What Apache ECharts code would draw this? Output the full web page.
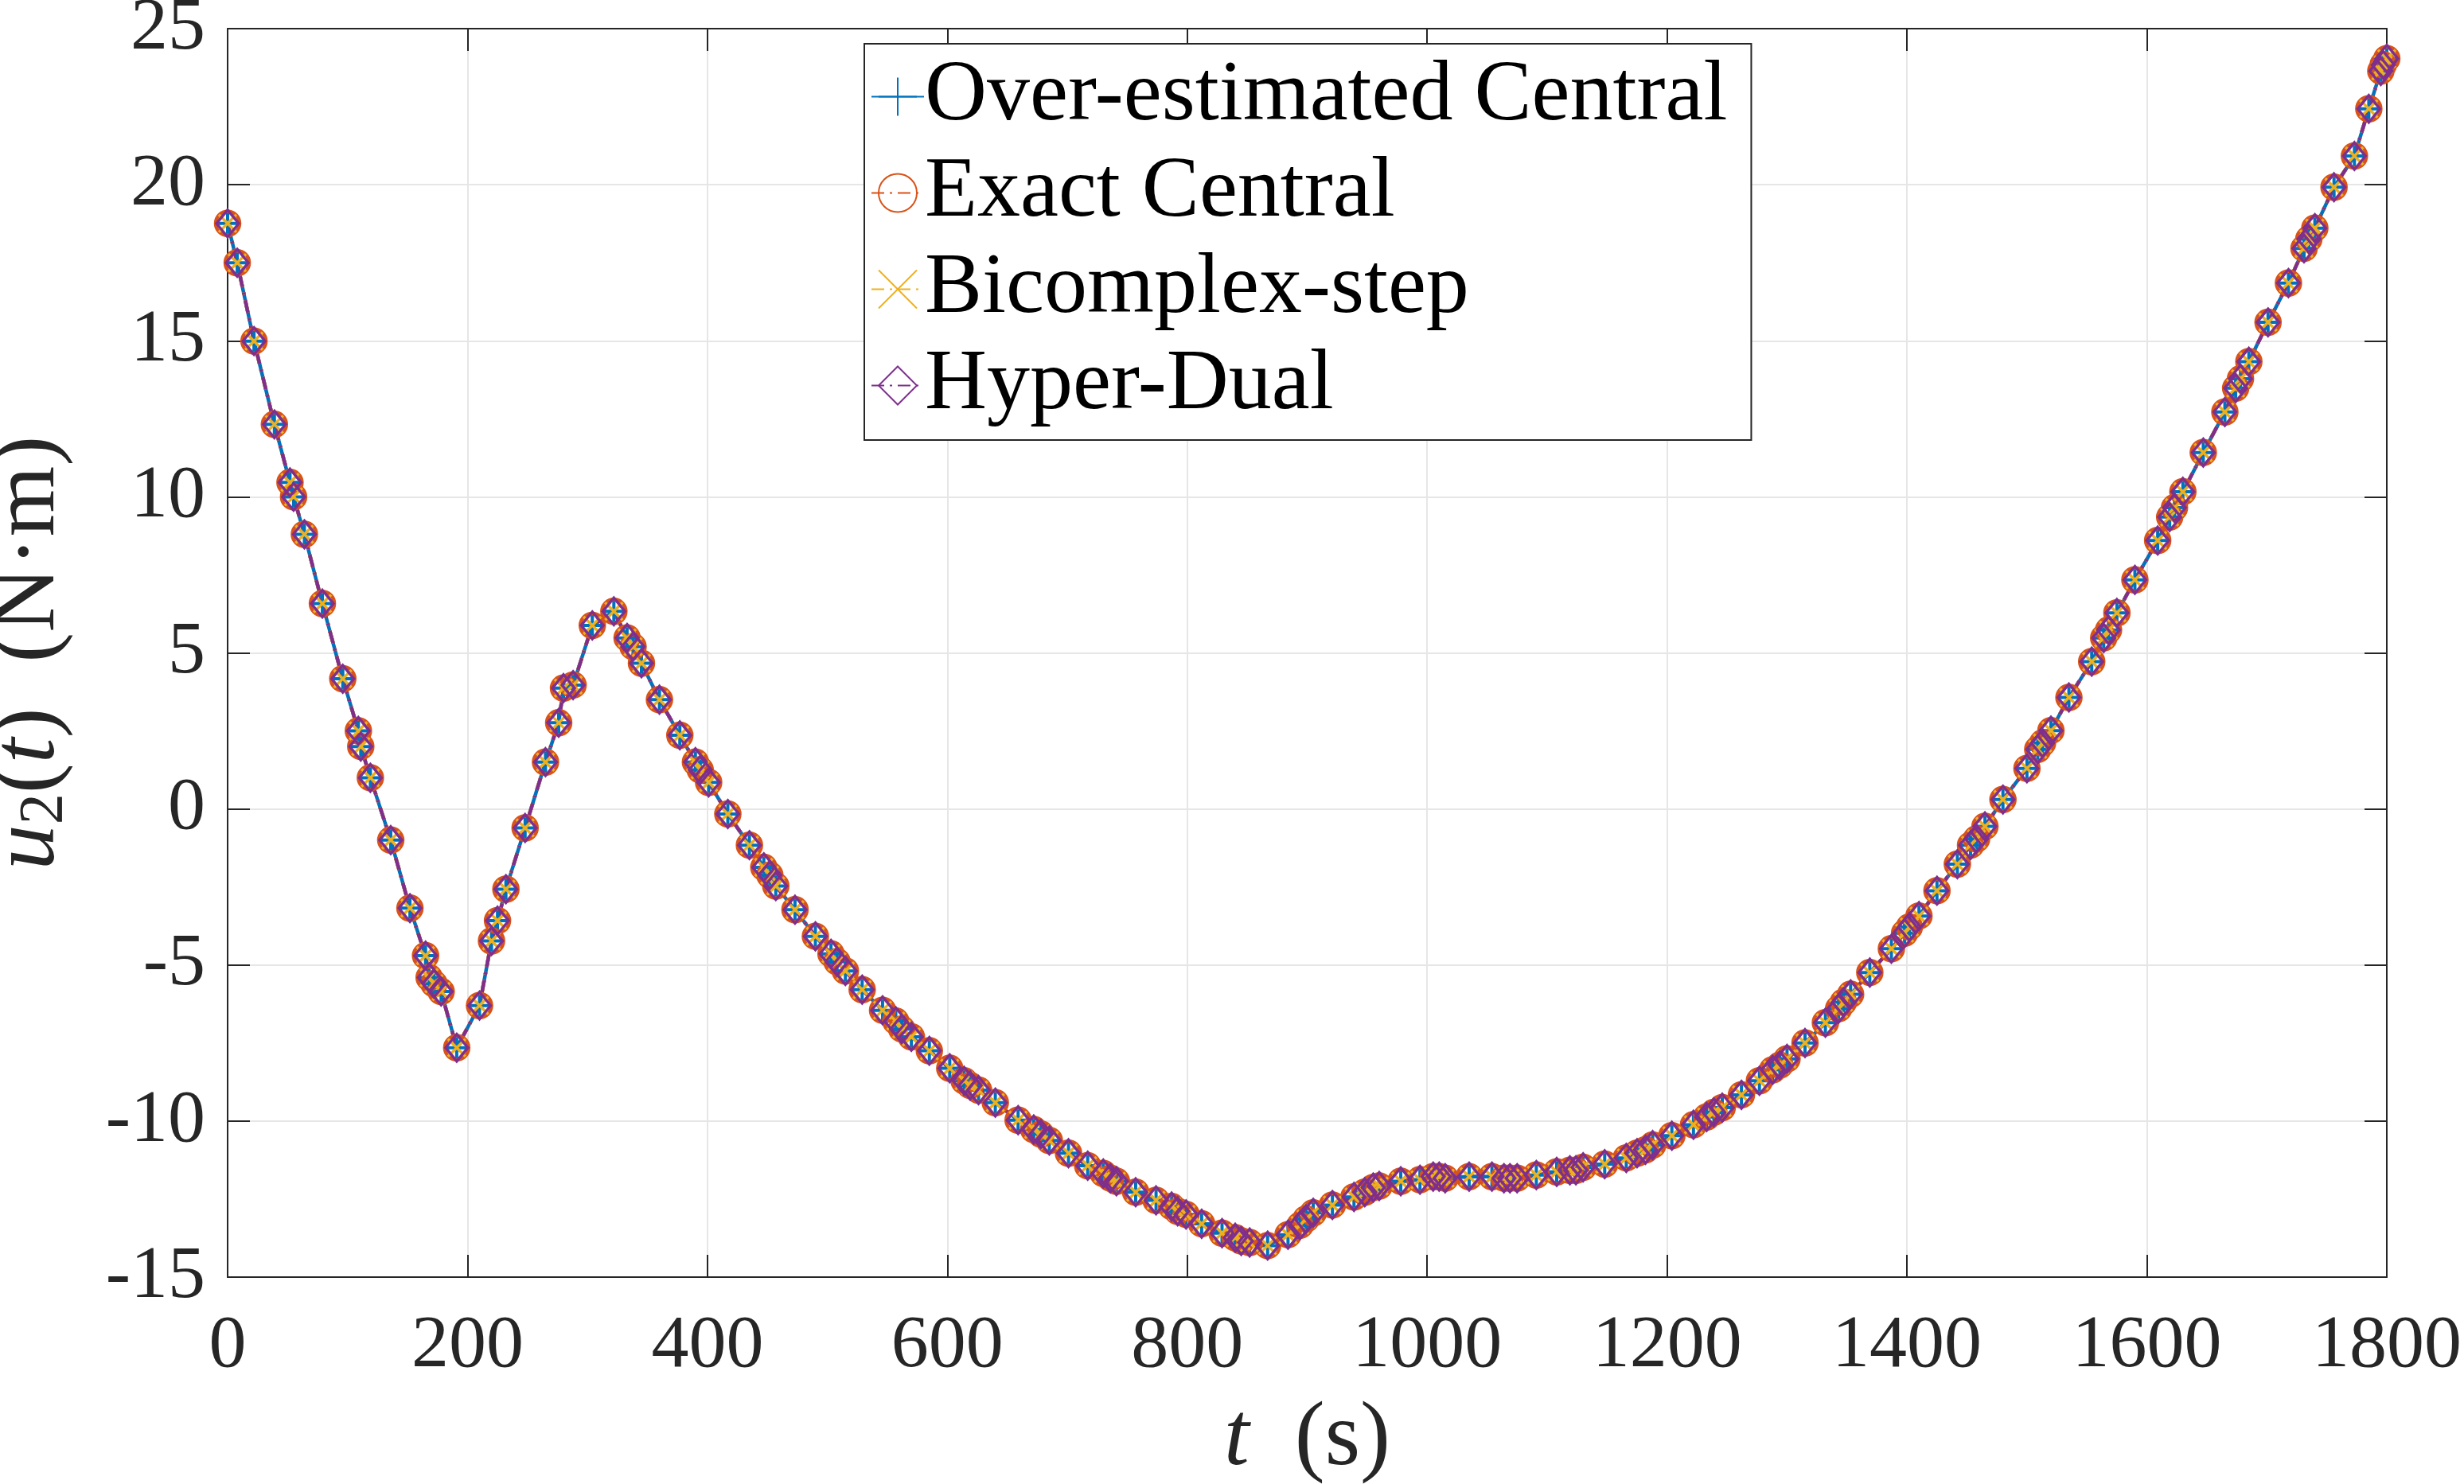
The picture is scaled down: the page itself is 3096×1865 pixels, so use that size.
<!DOCTYPE html>
<html>
<head>
<meta charset="utf-8">
<script src="https://cdn.jsdelivr.net/npm/echarts@6/dist/echarts.min.js"></script>
<style>
  html, body { margin: 0; padding: 0; background: #fff; }
  #chart { width: 3096px; height: 1865px; }
</style>
</head>
<body>
<div id="chart"></div>
<script>
// time samples (s) and torque u2 (N·m)
const tData = [0, 8, 22, 39, 52, 55, 64, 79, 96, 109, 111, 119, 136, 152, 165, 168, 172, 178, 191,
  210, 220, 225, 232, 248, 265, 276, 280, 288, 304, 322, 333, 338, 345, 360, 377, 390, 394, 401,
  417, 435, 447, 452, 457, 473, 490, 503, 508, 515, 529, 546, 557, 562, 570, 585, 602, 614, 619,
  626, 640, 659, 672, 678, 685, 701, 717, 730, 736, 741, 757, 774, 787, 792, 799, 812, 829, 840,
  845, 852, 867, 884, 894, 899, 905, 921, 939, 948, 955, 960, 978, 994, 1005, 1010, 1015, 1035,
  1054, 1064, 1069, 1075, 1091, 1108, 1119, 1124, 1130, 1148, 1166, 1175, 1182, 1188, 1204, 1222,
  1233, 1239, 1246, 1262, 1277, 1288, 1294, 1300, 1315, 1332, 1343, 1347, 1353, 1369, 1387, 1398,
  1402, 1410, 1425, 1442, 1453, 1458, 1465, 1480, 1500, 1509, 1513, 1520, 1535, 1554, 1564, 1568,
  1575, 1590, 1609, 1619, 1623, 1630, 1647, 1665, 1674, 1678, 1685, 1701, 1718, 1731, 1735, 1740,
  1756, 1773, 1785, 1795, 1797, 1800];
const uData = [18.76, 17.5, 14.99, 12.32, 10.46, 10.0, 8.8, 6.58, 4.17, 2.5, 2.0, 1.0, -1.0, -3.18,
  -4.7, -5.4, -5.6, -5.85, -7.65, -6.3, -4.23, -3.58, -2.57, -0.61, 1.5, 2.76, 3.87, 3.97, 5.88,
  6.33, 5.48, 5.2, 4.67, 3.5, 2.36, 1.5, 1.25, 0.85, -0.16, -1.16, -1.87, -2.12, -2.47, -3.23,
  -4.08, -4.64, -4.89, -5.19, -5.79, -6.45, -6.8, -7.05, -7.3, -7.75, -8.31, -8.71, -8.86, -9.01,
  -9.41, -9.97, -10.27, -10.42, -10.62, -11.03, -11.43, -11.68, -11.83, -11.93, -12.28, -12.54,
  -12.74, -12.89, -12.99, -13.29, -13.59, -13.74, -13.84, -13.89, -13.99, -13.64, -13.34, -13.14,
  -12.94, -12.69, -12.43, -12.28, -12.13, -12.08, -11.93, -11.88, -11.78, -11.78, -11.83, -11.78,
  -11.78, -11.83, -11.83, -11.83, -11.73, -11.63, -11.58, -11.58, -11.48, -11.38, -11.18, -11.03,
  -10.92, -10.77, -10.47, -10.12, -9.87, -9.72, -9.57, -9.16, -8.71, -8.36, -8.21, -8.01, -7.5,
  -6.85, -6.4, -6.19, -5.94, -5.24, -4.48, -3.98, -3.78, -3.43, -2.62, -1.77, -1.16, -0.96, -0.56,
  0.3, 1.3, 1.91, 2.11, 2.51, 3.57, 4.72, 5.48, 5.73, 6.28, 7.34, 8.6, 9.35, 9.65, 10.16, 11.42,
  12.72, 13.48, 13.78, 14.33, 15.59, 16.85, 17.96, 18.26, 18.61, 19.92, 20.92, 22.43, 23.64, 23.84,
  24.04];
const seriesNames = ['Over-estimated Central', 'Exact Central', 'Bicomplex-step', 'Hyper-Dual'];

const pts = tData.map((t, i) => [t, uData[i]]);
const serif = '"Liberation Serif", "DejaVu Serif", serif';
const axisCol = '#262626';
const dashDot = [16, 7, 3, 7];

var myChart = echarts.init(document.getElementById('chart'));

function mkSeries(name, color, symbol, size, lineType, bw) {
  return {
    name: name,
    type: 'line',
    data: pts,
    symbol: symbol,
    symbolSize: size,
    showSymbol: true,
    showAllSymbol: true,
    animation: false,
    lineStyle: { color: color, width: 4.5, type: lineType },
    itemStyle: { color: 'none', borderColor: color, borderWidth: bw },
    emphasis: { disabled: true }
  };
}

const frameAxis = (pos) => ({
  position: pos,
  axisLine: { show: true, onZero: false, lineStyle: { color: axisCol, width: 2 } },
  axisTick: { show: true, inside: true, length: 28, lineStyle: { color: axisCol, width: 2 } },
  axisLabel: { show: false }, splitLine: { show: false }
});

var option = {
  backgroundColor: '#fff',
  animation: false,
  grid: { left: 286, right: 97, top: 36, bottom: 260, show: false, containLabel: false, outerBoundsMode: 'none' },
  legend: {
    orient: 'vertical',
    left: 1086,
    top: 55,
    padding: [6, 30, 8, 8],
    itemGap: 0,
    itemWidth: 66,
    itemHeight: 60,
    backgroundColor: '#fff',
    borderColor: axisCol,
    borderWidth: 2,
    borderRadius: 0,
    textStyle: { fontFamily: serif, fontSize: 108, color: '#000', lineHeight: 121, padding: [0, 0, 0, -4] },
    data: seriesNames
  },
  xAxis: [Object.assign({
    type: 'value', min: 0, max: 1800, interval: 200,
    name: '{i|t}  (s)', nameLocation: 'middle', nameGap: 148,
    nameTextStyle: { fontFamily: serif, fontSize: 114, color: axisCol,
      rich: { i: { fontFamily: serif, fontStyle: 'italic', fontSize: 114, color: axisCol } } },
    axisLabel: { fontFamily: serif, fontSize: 94, color: axisCol, margin: 40, formatter: (v) => String(v) },
    splitLine: { show: true, lineStyle: { color: '#e6e6e6', width: 2 } }
  }, {
    axisLine: { show: true, onZero: false, lineStyle: { color: axisCol, width: 2 } },
    axisTick: { show: true, inside: true, length: 28, lineStyle: { color: axisCol, width: 2 } },
    position: 'bottom'
  }), Object.assign({ type: 'value', min: 0, max: 1800, interval: 200 }, frameAxis('top'))],
  yAxis: [Object.assign({
    type: 'value', min: -15, max: 25, interval: 5,
    name: '{i|u}{s|2}({i|t})  (N·m)', nameLocation: 'middle', nameGap: 190, nameRotate: 90,
    nameTextStyle: { fontFamily: serif, fontSize: 114, color: axisCol,
      rich: {
        i: { fontFamily: serif, fontStyle: 'italic', fontSize: 114, color: axisCol },
        s: { fontFamily: serif, fontSize: 78, color: axisCol, verticalAlign: 'bottom', padding: [40, 0, 0, 0] }
      } },
    axisLabel: { fontFamily: serif, fontSize: 94, color: axisCol, margin: 28 },
    splitLine: { show: true, lineStyle: { color: '#e6e6e6', width: 2 } }
  }, {
    axisLine: { show: true, onZero: false, lineStyle: { color: axisCol, width: 2 } },
    axisTick: { show: true, inside: true, length: 28, lineStyle: { color: axisCol, width: 2 } },
    position: 'left'
  }), Object.assign({ type: 'value', min: -15, max: 25, interval: 5 }, frameAxis('right'))],
  series: [
    mkSeries(seriesNames[0], '#0072BD', 'path://M0,-10L0,10M-10,0L10,0', 30, 'solid', 4),
    mkSeries(seriesNames[1], '#D95319', 'circle', 30, dashDot, 4.5),
    mkSeries(seriesNames[2], '#EDB120', 'path://M-10,-10L10,10M-10,10L10,-10', 22, dashDot, 3.5),
    mkSeries(seriesNames[3], '#7E2F8E', 'diamond', [28, 34], dashDot, 3.5)
  ]
};

option && myChart.setOption(option);
</script>
</body>
</html>
